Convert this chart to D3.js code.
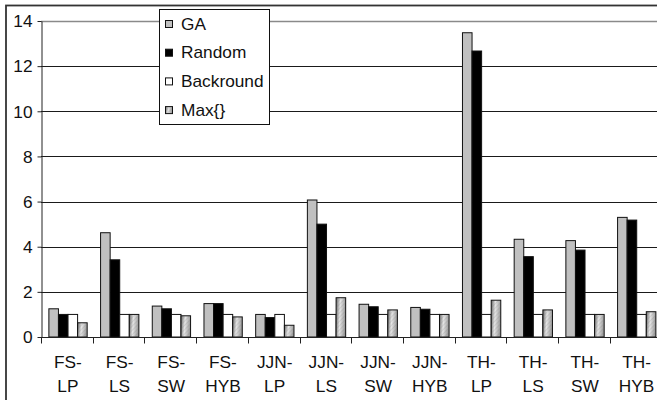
<!DOCTYPE html>
<html>
<head>
<meta charset="utf-8">
<script src="https://cdn.jsdelivr.net/npm/d3@7"></script>
<style>
  html, body { margin: 0; padding: 0; background: #fff; }
  svg { display: block; }
  text { font-family: "Liberation Sans", Arial, sans-serif; fill: #111; }
</style>
</head>
<body>
<script>
const categories = ["FS-LP","FS-LS","FS-SW","FS-HYB","JJN-LP","JJN-LS","JJN-SW","JJN-HYB","TH-LP","TH-LS","TH-SW","TH-HYB"];
const seriesNames = ["GA","Random","Backround","Max{}"];
const gaValues        = [1.25, 4.62, 1.37, 1.48, 1.00, 6.07, 1.45, 1.31, 13.48, 4.33, 4.27, 5.30];
const randomValues    = [1.00, 3.42, 1.25, 1.48, 0.86, 5.00, 1.34, 1.23, 12.67, 3.56, 3.85, 5.18];
const backroundValues = [1.00, 1.00, 1.00, 1.00, 1.00, 1.00, 1.00, 1.00, 1.00, 1.00, 1.00, 1.00];
const maxValues       = [0.63, 1.00, 0.94, 0.89, 0.52, 1.74, 1.20, 1.00, 1.63, 1.20, 1.00, 1.12];
const yTicks = [0, 2, 4, 6, 8, 10, 12, 14];

const seriesValues = [gaValues, randomValues, backroundValues, maxValues];
const W = 657, H = 400;
const STRETCH = 1.08;
const FS = 16;

const svg = d3.select("body").append("svg").attr("width", W).attr("height", H);
const defs = svg.append("defs");

// Max{} fill: shaded gradient with fine diagonal hatching
const grad = defs.append("linearGradient").attr("id", "maxGrad")
  .attr("x1", 0).attr("y1", 0).attr("x2", 1).attr("y2", 0.15);
grad.append("stop").attr("offset", "0%").attr("stop-color", "#6a6a6a");
grad.append("stop").attr("offset", "45%").attr("stop-color", "#e6e6e6");
grad.append("stop").attr("offset", "100%").attr("stop-color", "#9c9c9c");
const hatch = defs.append("pattern").attr("id", "maxHatch")
  .attr("patternUnits", "userSpaceOnUse").attr("width", 3).attr("height", 3)
  .attr("patternTransform", "rotate(45)");
hatch.append("line").attr("x1", 0).attr("y1", 0).attr("x2", 0).attr("y2", 3)
  .attr("stroke", "#777").attr("stroke-width", 0.8).attr("stroke-opacity", 0.45);

const fills = ["#c0c0c0", "#000000", "#ffffff", "url(#maxGrad)"];

// outer chart frame (extends beyond the cropped view)
svg.append("rect").attr("x", 6).attr("y", 5.5).attr("width", 760).attr("height", 500)
  .attr("fill", "#fff").attr("stroke", "#333").attr("stroke-width", 1.8);

const x0 = d3.scaleBand().domain(categories).range([41, 41 + 12 * 51.7]).padding(0);
const x1 = d3.scaleBand().domain(seriesNames).range([0, x0.bandwidth()])
  .paddingInner(0).paddingOuter(0.7).align(0.55);
const y = d3.scaleLinear().domain([0, 14]).range([337, 21]);

const plotRight = x0.range()[1];

// gridlines
svg.append("g").selectAll("line").data(yTicks.filter(d => d > 0)).join("line")
  .attr("x1", 41).attr("x2", plotRight)
  .attr("y1", d => Math.round(y(d)) + 0.5).attr("y2", d => Math.round(y(d)) + 0.5)
  .attr("stroke", d => d === 14 ? "#8a8a8a" : "#1a1a1a").attr("stroke-width", d => d === 14 ? 1.4 : 1.1);

// bars
const groups = svg.append("g").selectAll("g").data(categories).join("g")
  .attr("transform", c => `translate(${x0(c)},0)`);
groups.selectAll("rect.bar").data((c, i) => seriesNames.map((s, j) => ({ s, j, v: seriesValues[j][i] })))
  .join("rect").attr("class", "bar")
  .attr("x", d => x1(d.s) + 0.5).attr("width", x1.bandwidth())
  .attr("y", d => y(d.v)).attr("height", d => y(0) - y(d.v))
  .attr("fill", d => fills[d.j]).attr("stroke", "#111").attr("stroke-width", 1);
groups.selectAll("rect.hatch").data((c, i) => [{ v: maxValues[i] }])
  .join("rect").attr("class", "hatch")
  .attr("x", x1("Max{}") + 1).attr("width", x1.bandwidth() - 1)
  .attr("y", d => y(d.v) + 0.5).attr("height", d => y(0) - y(d.v) - 1)
  .attr("fill", "url(#maxHatch)");

// y axis
const yAxis = svg.append("g").attr("transform", "translate(41.5,0)")
  .call(d3.axisLeft(y).tickValues(yTicks).tickSize(4).tickSizeOuter(0).tickFormat(d3.format("d")));
yAxis.select(".domain").attr("stroke", "#222");
yAxis.selectAll(".tick line").attr("stroke", "#222");
yAxis.selectAll(".tick text").remove();
yAxis.selectAll(".tick").append("g").attr("transform", `translate(-9,0) scale(${STRETCH},1)`)
  .append("text").attr("text-anchor", "end").attr("dy", "0.36em")
  .attr("font-size", FS).text(d => d);

// x axis
const xAxisG = svg.append("g").attr("transform", `translate(0,${Math.round(y(0)) + 0.5})`);
xAxisG.append("line").attr("x1", 41).attr("x2", plotRight).attr("stroke", "#222");
const bounds = categories.map(c => x0(c)).concat([plotRight]);
xAxisG.selectAll("line.tk").data(bounds).join("line").attr("class", "tk")
  .attr("x1", d => Math.round(d) + 0.5).attr("x2", d => Math.round(d) + 0.5)
  .attr("y1", 0).attr("y2", 6).attr("stroke", "#222");
const lbl = xAxisG.selectAll("g.lbl").data(categories).join("g").attr("class", "lbl")
  .attr("transform", c => `translate(${x0(c) + x0.bandwidth() / 2 + 1},0) scale(${STRETCH},1)`);
lbl.append("text").attr("text-anchor", "middle").attr("y", 31).attr("font-size", FS)
  .text(c => c.split("-")[0] + "-");
lbl.append("text").attr("text-anchor", "middle").attr("y", 54.5).attr("font-size", FS)
  .text(c => c.split("-")[1]);

// legend
const leg = svg.append("g");
leg.append("rect").attr("x", 159.5).attr("y", 9.5).attr("width", 110).attr("height", 115)
  .attr("fill", "#fff").attr("stroke", "#111").attr("stroke-width", 1);
const items = leg.selectAll("g.item").data(seriesNames).join("g").attr("class", "item")
  .attr("transform", (d, i) => `translate(0,${24 + i * 28.7})`);
items.append("rect").attr("x", 165.5).attr("y", -3.5).attr("width", 7).attr("height", 7)
  .attr("fill", (d, i) => fills[i]).attr("stroke", "#111").attr("stroke-width", 1);
items.filter(d => d === "Max{}").append("rect").attr("x", 166).attr("y", -3).attr("width", 6).attr("height", 6)
  .attr("fill", "url(#maxHatch)");
items.append("g").attr("transform", `translate(181,0) scale(${STRETCH},1)`)
  .append("text").attr("dy", "0.36em").attr("font-size", FS).text(d => d);
</script>
</body>
</html>
